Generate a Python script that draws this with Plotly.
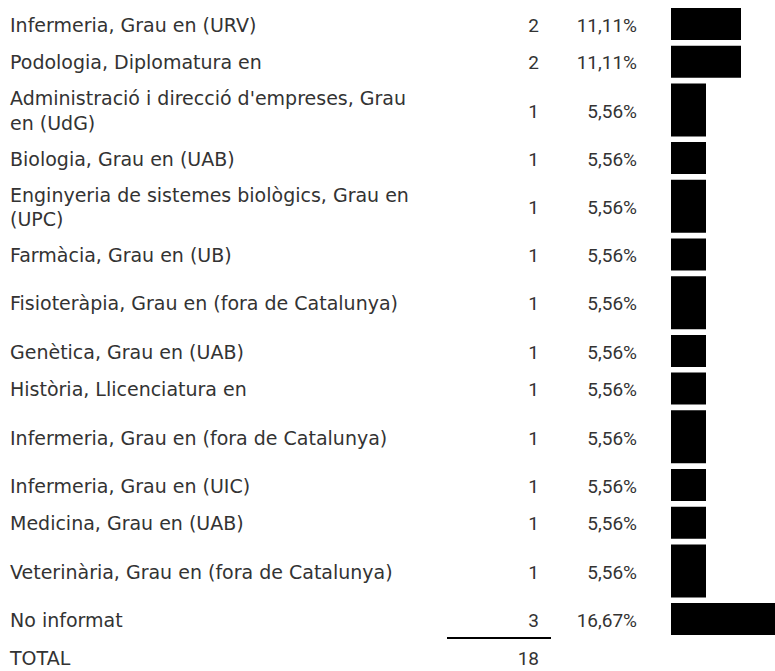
import plotly.graph_objects as go

# data
labels = [
    'Infermeria, Grau en (URV)',
    'Podologia, Diplomatura en',
    "Administració i direcció d'empreses, Grau<br>en (UdG)",
    'Biologia, Grau en (UAB)',
    'Enginyeria de sistemes biològics, Grau en<br>(UPC)',
    'Farmàcia, Grau en (UB)',
    'Fisioteràpia, Grau en (fora de Catalunya)',
    'Genètica, Grau en (UAB)',
    'Història, Llicenciatura en',
    'Infermeria, Grau en (fora de Catalunya)',
    'Infermeria, Grau en (UIC)',
    'Medicina, Grau en (UAB)',
    'Veterinària, Grau en (fora de Catalunya)',
    'No informat',
]
counts = [2, 2, 1, 1, 1, 1, 1, 1, 1, 1, 1, 1, 1, 3]
total_label = 'TOTAL'

# layout of the table (row heights in px, tall rows = 2 text lines)
W, H = 775, 671
row_lines = [1, 1, 2, 1, 2, 1, 2, 1, 1, 2, 1, 1, 2, 1]
short_h, tall_h = 37.7, 58.7
top = 5.15
bar_gap = 5.7
text_dy = 3  # text sits a little below the bar centre
txt_color = '#333333'
label_font = dict(family='DejaVu Sans', size=19, color=txt_color)
num_font = dict(family='Roboto', size=19, color=txt_color)

total = sum(counts)
pct = [f'{c / total * 100:.2f}%'.replace('.', ',') for c in counts]

centers, heights = [], []
y = top
for n in row_lines:
    h = short_h if n == 1 else tall_h
    centers.append(y + h / 2)
    heights.append(h)
    y += h
line_y = y
total_y = y + 22
text_y = [c + text_dy for c in centers] + [total_y]

fig = go.Figure()

fig.add_trace(go.Bar(
    orientation='h', x=counts, y=centers,
    width=[h - bar_gap for h in heights],
    marker=dict(color='black', line=dict(width=0)),
    xaxis='x2', yaxis='y', hoverinfo='skip',
))

fig.add_trace(go.Scatter(
    x=[10] * len(text_y), y=text_y,
    text=labels + [total_label], mode='text', textposition='middle right',
    textfont=label_font, hoverinfo='skip',
))
fig.add_trace(go.Scatter(
    x=[539] * len(text_y), y=text_y,
    text=[str(c) for c in counts] + [str(total)], mode='text',
    textposition='middle left', textfont=num_font, hoverinfo='skip',
))
fig.add_trace(go.Scatter(
    x=[637] * len(pct), y=text_y[:-1], text=pct, mode='text',
    textposition='middle left', textfont=num_font, hoverinfo='skip',
))

fig.add_shape(type='line', xref='x', yref='y', x0=447, x1=551,
              y0=line_y, y1=line_y, line=dict(color='black', width=2))

fig.update_layout(
    width=W, height=H,
    margin=dict(l=0, r=0, t=0, b=0),
    paper_bgcolor='white', plot_bgcolor='white',
    showlegend=False,
    xaxis=dict(range=[0, W], domain=[0, 1], visible=False, fixedrange=True),
    xaxis2=dict(range=[0, 104 / 35], domain=[671 / W, 1], anchor='y',
                visible=False, fixedrange=True),
    yaxis=dict(range=[H, 0], domain=[0, 1], visible=False, fixedrange=True),
)

fig.write_html('out.html', config={'displayModeBar': False},
               post_script="document.body.style.margin='0';")
